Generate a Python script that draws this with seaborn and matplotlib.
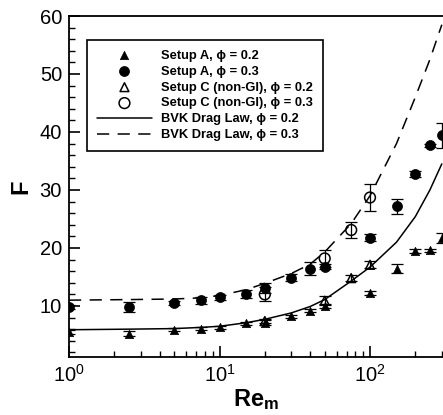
import numpy as np
import matplotlib
matplotlib.use("Agg")
import matplotlib.pyplot as plt
from matplotlib.ticker import MultipleLocator, LogLocator
import seaborn as sns

# ---------------- data ----------------
re_a02 = [1, 2.5, 5, 7.5, 10, 15, 20, 30, 40, 50, 100, 150, 200, 250, 300]
f_a02 = [5.5, 5.2, 5.9, 6.1, 6.3, 7.0, 7.1, 8.2, 9.2, 10.0, 12.2, 16.4, 19.5, 19.6, 21.7]
e_a02 = [0.3, 0.4, 0.3, 0.3, 0.3, 0.3, 0.4, 0.3, 0.3, 0.4, 0.3, 0.8, 0.3, 0.3, 0.8]

re_a03 = [1, 2.5, 5, 7.5, 10, 15, 20, 30, 40, 50, 100, 150, 200, 250, 300]
f_a03 = [9.8, 9.8, 10.5, 11.0, 11.5, 12.0, 13.1, 14.9, 16.4, 16.8, 21.8, 27.2, 32.7, 37.7, 39.4]
e_a03 = [0.3, 0.8, 0.3, 0.6, 0.4, 0.7, 0.9, 0.6, 1.1, 0.4, 0.6, 1.3, 0.5, 0.3, 2.2]

re_c02 = [20, 50, 75, 100]
f_c02 = [7.4, 10.9, 14.8, 17.1]
e_c02 = [0.4, 0.8, 0.5, 0.6]

re_c03 = [20, 50, 75, 100]
f_c03 = [12.0, 18.2, 23.1, 28.7]
e_c03 = [1.2, 1.5, 1.4, 2.3]

re_bvk = [1, 2.5, 5, 7.5, 10, 15, 20, 30, 40, 50, 75, 100, 150, 200, 250, 300]
f_bvk02 = [5.9, 6.0, 6.1, 6.3, 6.5, 7.1, 7.7, 8.8, 9.9, 11.1, 14.3, 16.7, 21.0, 25.4, 30.0, 34.5]
f_bvk03 = [11.0, 11.1, 11.2, 11.4, 11.8, 12.8, 13.9, 15.6, 17.2, 19.3, 24.2, 29.0, 38.0, 46.0, 52.5, 58.5]

labels = ["Setup A, ϕ = 0.2", "Setup A, ϕ = 0.3",
          "Setup C (non-GI), ϕ = 0.2", "Setup C (non-GI), ϕ = 0.3",
          "BVK Drag Law, ϕ = 0.2", "BVK Drag Law, ϕ = 0.3"]

# ---------------- style ----------------
sns.set_style("ticks")
plt.rcParams["font.family"] = ["Liberation Sans", "DejaVu Sans"]
plt.rcParams["mathtext.fontset"] = "custom"
plt.rcParams["mathtext.rm"] = "Liberation Sans"
plt.rcParams["mathtext.it"] = "Liberation Sans:italic"
plt.rcParams["mathtext.bf"] = "Liberation Sans:bold"
plt.rcParams["text.color"] = "black"
plt.rcParams["axes.labelcolor"] = "black"
plt.rcParams["xtick.color"] = "black"
plt.rcParams["ytick.color"] = "black"

fig = plt.figure(figsize=(4.43, 4.15), dpi=100)
ax = fig.add_axes([69 / 443, 1 - 357 / 415, 1 - 69 / 443, (357 - 16) / 415])

k = "black"
# error bars
for x, y, e in [(re_a02, f_a02, e_a02), (re_a03, f_a03, e_a03),
                (re_c02, f_c02, e_c02), (re_c03, f_c03, e_c03)]:
    ax.errorbar(x, y, yerr=e, fmt="none", ecolor=k, elinewidth=0.9,
                capsize=4.5, capthick=0.9, zorder=2)

# lines
sns.lineplot(x=re_bvk, y=f_bvk02, color=k, lw=1.1, ax=ax, label=labels[4], zorder=3)
sns.lineplot(x=re_bvk, y=f_bvk03, color=k, lw=1.1, ax=ax, label=labels[5],
             linestyle=(0, (8, 5.5)), zorder=3)

# markers
sns.scatterplot(x=re_a02, y=f_a02, marker="^", s=36, color=k, edgecolor=k,
                linewidth=0.5, ax=ax, label=labels[0], zorder=4)
sns.scatterplot(x=re_a03, y=f_a03, marker="o", s=52, color=k, edgecolor=k,
                linewidth=0.5, ax=ax, label=labels[1], zorder=4)
sns.scatterplot(x=re_c02, y=f_c02, marker="^", s=40, facecolor="none", edgecolor=k,
                linewidth=1.1, ax=ax, label=labels[2], zorder=4)
sns.scatterplot(x=re_c03, y=f_c03, marker="o", s=60, facecolor="none", edgecolor=k,
                linewidth=1.1, ax=ax, label=labels[3], zorder=4)

ax.set_xscale("log")
ax.set_xlim(1, 10 ** ((443 - 69) / 150.5))
ax.set_ylim(1.2, 60)
ax.yaxis.set_major_locator(MultipleLocator(10))
ax.yaxis.set_minor_locator(MultipleLocator(2))
ax.xaxis.set_major_locator(LogLocator(base=10))
ax.xaxis.set_minor_locator(LogLocator(base=10, subs=np.arange(2, 10)))

for s in ["left", "bottom", "top"]:
    ax.spines[s].set_linewidth(1.3)
    ax.spines[s].set_color(k)
ax.spines["right"].set_visible(False)

ax.tick_params(axis="both", which="major", direction="in", length=8, width=1.2,
               labelsize=14.5, colors=k, pad=5)
ax.tick_params(axis="both", which="minor", direction="in", length=4.5, width=1.0, colors=k)
ax.tick_params(top=False, right=False, which="both")

ax.set_xlabel(r"$\mathbf{Re}_{\mathbf{m}}$", fontsize=17, labelpad=1)
ax.set_ylabel("F", fontsize=17, fontweight="bold", labelpad=5)

# legend
h, l = ax.get_legend_handles_labels()
order = [l.index(t) for t in labels]
leg = ax.legend([h[i] for i in order], [l[i] for i in order],
                loc="upper left", bbox_to_anchor=(87 / 443, 1 - 40 / 415),
                bbox_transform=fig.transFigure, borderaxespad=0,
                frameon=True, fancybox=False, edgecolor=k, framealpha=1,
                prop={"weight": "bold", "size": 9.3}, handlelength=4.3,
                handletextpad=0.7, labelspacing=0.3, borderpad=0.75,
                scatterpoints=1)
leg.get_frame().set_linewidth(1.2)

fig.savefig("out.png", dpi=100)
